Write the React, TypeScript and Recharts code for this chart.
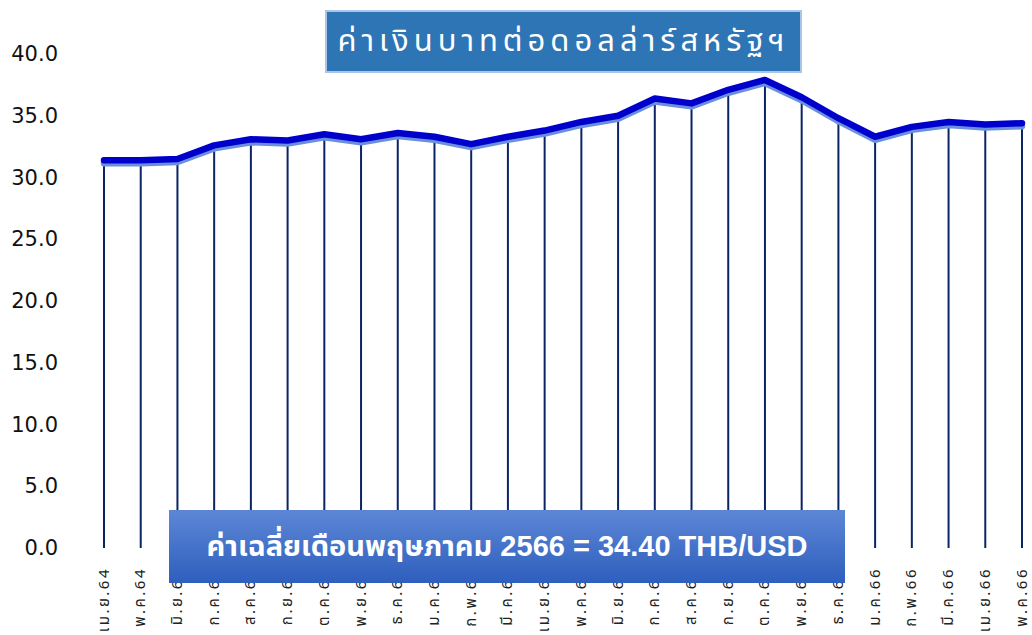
import React from 'react';
import { LineChart, Line, XAxis, YAxis, ReferenceLine } from 'recharts';

const months = [
  'เม.ย.64', 'พ.ค.64', 'มิ.ย.64', 'ก.ค.64', 'ส.ค.64', 'ก.ย.64', 'ต.ค.64', 'พ.ย.64', 'ธ.ค.64',
  'ม.ค.65', 'ก.พ.65', 'มี.ค.65', 'เม.ย.65', 'พ.ค.65', 'มิ.ย.65', 'ก.ค.65', 'ส.ค.65', 'ก.ย.65',
  'ต.ค.65', 'พ.ย.65', 'ธ.ค.65', 'ม.ค.66', 'ก.พ.66', 'มี.ค.66', 'เม.ย.66', 'พ.ค.66',
];

const rates = [
  31.4, 31.4, 31.5, 32.6, 33.1, 33.0, 33.5, 33.1, 33.6,
  33.3, 32.7, 33.3, 33.8, 34.5, 35.0, 36.4, 36.0, 37.1,
  37.9, 36.5, 34.8, 33.3, 34.1, 34.5, 34.3, 34.4,
];

const yTicks = [0, 5, 10, 15, 20, 25, 30, 35, 40];

const title = 'ค่าเงินบาทต่อดอลล่าร์สหรัฐฯ';
const note = 'ค่าเฉลี่ยเดือนพฤษภาคม 2566 = 34.40 THB/USD';

const data = months.map((m, i) => ({ month: m, rate: rates[i] }));

const thaiFont = '"Noto Sans Thai", Tahoma, "Noto Sans", "DejaVu Sans", sans-serif';

function YTick(props: any) {
  const { y, payload } = props;
  return (
    <text x={58} y={y} textAnchor="end" dominantBaseline="central"
      fontFamily='"DejaVu Sans", Verdana, sans-serif' fontSize={21} fill="#111">
      {Number(payload.value).toFixed(1)}
    </text>
  );
}

function XTick(props: any) {
  const { x, payload } = props;
  return (
    <text x={0} y={0} transform={`translate(${x},567) rotate(-90)`} textAnchor="end"
      dominantBaseline="central" fontFamily={thaiFont} fontSize={15} letterSpacing={2.5} fill="#222">
      {payload.value}
    </text>
  );
}

export default function App() {
  return (
    <div style={{ position: 'fixed', left: 0, top: 0, width: 1032, height: 635, background: '#fff', overflow: 'hidden' }}>
      <style>{`.rate-line path { filter: drop-shadow(0px 3px 0px #6a8fdc); }`}</style>
      <LineChart width={1032} height={635} data={data} margin={{ top: 54, right: 10, left: 0, bottom: 0 }}>
        <XAxis dataKey="month" axisLine={false} tickLine={false} height={87} interval={0} tick={<XTick />} />
        <YAxis domain={[0, 40]} ticks={yTicks} axisLine={false} tickLine={false} width={104} tick={<YTick />} />
        {data.map((d) => (
          <ReferenceLine key={d.month} segment={[{ x: d.month, y: 0 }, { x: d.month, y: d.rate }]}
            stroke="#0b2466" strokeWidth={2} />
        ))}
        <Line type="linear" dataKey="rate" className="rate-line" stroke="#0000cc" strokeWidth={6.5}
          strokeLinecap="round" strokeLinejoin="round" dot={false} activeDot={false} isAnimationActive={false} />
      </LineChart>

      <div style={{
        position: 'absolute', left: 325, top: 10, width: 477, height: 63, boxSizing: 'border-box',
        background: '#2e75b6', border: '2px solid #a9c6e8', color: '#fff', fontFamily: thaiFont,
        fontSize: 31, letterSpacing: 5, whiteSpace: 'nowrap',
        display: 'flex', alignItems: 'center', justifyContent: 'center',
      }}>
        {title}
      </div>

      <div style={{
        position: 'absolute', left: 169, top: 510, width: 676, height: 73, boxSizing: 'border-box',
        background: 'linear-gradient(#5d86d6, #2e5fbd)', color: '#fff',
        fontFamily: '"Liberation Sans", Arial, ' + thaiFont, fontWeight: 'bold', fontSize: 29,
        whiteSpace: 'nowrap', display: 'flex', alignItems: 'center', justifyContent: 'center',
      }}>
        {note}
      </div>
    </div>
  );
}
